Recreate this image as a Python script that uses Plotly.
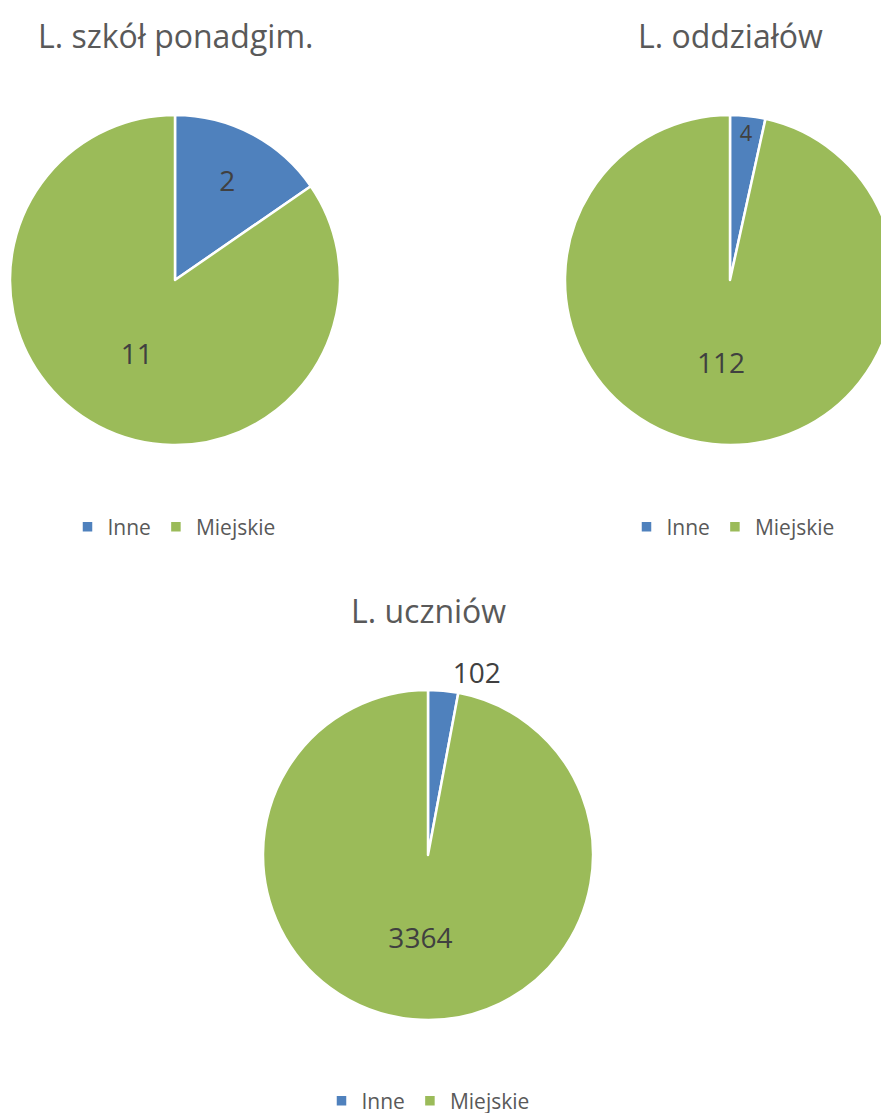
import plotly.graph_objects as go

# data
labels = ["Inne", "Miejskie"]
szkoly = [2, 11]
oddzialy = [4, 112]
uczniowie = [102, 3364]
titles = ["L. szkół ponadgim.", "L. oddziałów", "L. uczniów"]

COLORS = ["#4F81BD", "#9BBB59"]
W, H = 900, 1130   # a bit bigger than the window, overflow is hidden
FONT = "Open Sans"


def dom(cx, cy, r=165):
    # pixel centre/radius -> paper domain
    return dict(x=[(cx - r) / W, (cx + r) / W], y=[1 - (cy + r) / H, 1 - (cy - r) / H])


def pie(values, domain, legend, textpos):
    return go.Pie(labels=labels, values=values, domain=domain,
                  legend=legend, legendgroup=legend,
                  sort=False, direction="clockwise", rotation=0,
                  marker=dict(colors=COLORS, line=dict(color="white", width=2.5)),
                  textinfo="value", textposition=textpos,
                  insidetextorientation="horizontal",
                  textfont=dict(family=FONT, size=28, color="#404040"),
                  hoverinfo="label+value")


fig = go.Figure([
    pie(szkoly, dom(175, 280), "legend", "inside"),
    pie(oddzialy, dom(730, 280), "legend2", "inside"),
    pie(uczniowie, dom(428, 855), "legend3", ["outside", "inside"]),
])

for txt, (cx, cy) in zip(titles, [(175, 35), (730, 35), (428, 610)]):
    fig.add_annotation(text=txt, x=cx / W, y=1 - cy / H, xref="paper", yref="paper",
                       showarrow=False, xanchor="center", yanchor="middle",
                       font=dict(family=FONT, size=32, color="#595959"))

leg = dict(orientation="h", xanchor="center", yanchor="middle", itemwidth=30,
           traceorder="normal",
           font=dict(family=FONT, size=21, color="#595959"), bgcolor="rgba(0,0,0,0)")
fig.update_layout(
    width=W, height=H, margin=dict(l=0, r=0, t=0, b=0),
    paper_bgcolor="white", plot_bgcolor="white",
    legend=dict(leg, x=174 / W, y=1 - 527 / H),
    legend2=dict(leg, x=733 / W, y=1 - 527 / H),
    legend3=dict(leg, x=428 / W, y=1 - 1101 / H),
)

fig.write_html("out.html", config=dict(displayModeBar=False),
               post_script="document.body.style.margin='0';document.body.style.overflow='hidden';")
